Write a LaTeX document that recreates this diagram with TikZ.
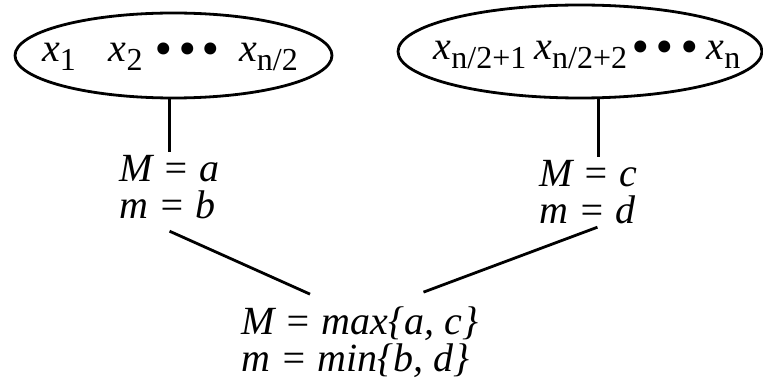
\documentclass[tikz,border=0pt]{standalone}
\usepackage{fontspec}
\setmainfont{Liberation Serif}
\usetikzlibrary{shapes.geometric}

\newcommand{\xsub}[1]{\textit{x}\raisebox{-9pt}{\fontsize{32}{32}\selectfont\upshape #1}}
\newcommand{\bigdot}{\raisebox{-4pt}{\scalebox{1.25}{\textbullet}}}
\newcommand{\threedots}[1]{\bigdot\hspace{#1}\bigdot\hspace{#1}\bigdot}

\begin{document}
\begin{tikzpicture}[x=1pt, y=-1pt, line width=2.8pt,
  every node/.style={font=\fontsize{40}{37}\selectfont\itshape},
  part/.style={ellipse, draw, inner sep=0pt},
  res/.style={align=left, inner sep=2pt, anchor=west}]
  \useasboundingbox (0,0) rectangle (763,382);
  % the two halves
  \node[part, minimum width=317pt, minimum height=85pt] (lpart) at (173.5,55.5) {};
  \node[anchor=base] (lseq) at (170,62)
    {\xsub{1}\hspace{33pt}\xsub{2}\hspace{12pt}\threedots{6pt}\hspace{20pt}\xsub{n/2}};
  \node[part, minimum width=364pt, minimum height=93pt] (rpart) at (580,51.5) {};
  \node[anchor=base] (rseq) at (587,60)
    {\xsub{n/2+1}\hspace{8pt}\xsub{n/2+2}\hspace{4pt}\threedots{7pt}\hspace{9pt}\xsub{n}};
  % results
  \node[res] (lres) at (116,187) {M = a\\m = b};
  \node[res] (rres) at (536,192) {M = c\\m = d};
  \node[res] (bot) at (238,342) {M = max\{a, c\}\\m = min\{b, d\}};
  \coordinate (rtop) at ([xshift=10pt]rres.north);
  \draw (lpart.south -| lres.north) -- (lres.north);
  \draw (rpart.south -| rtop) -- (rtop);
  \draw ([yshift=-9pt]lres.south) -- ([xshift=72pt,yshift=9pt]bot.north west);
  \draw ([xshift=9pt]rres.south) -- ([xshift=-58pt,yshift=11pt]bot.north east);
\end{tikzpicture}
\end{document}
